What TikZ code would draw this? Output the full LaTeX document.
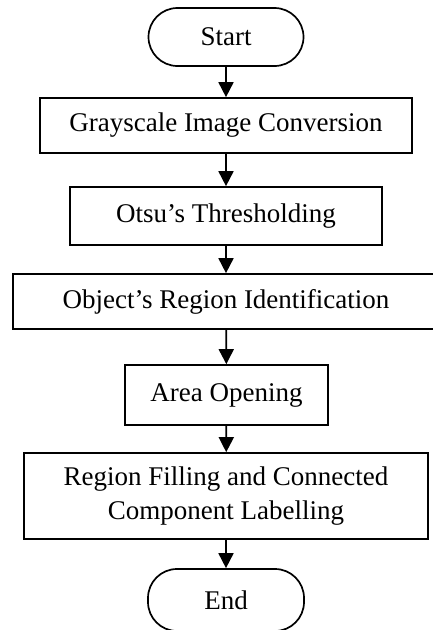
\documentclass[tikz,border=0pt]{standalone}
\usepackage{fontspec}
\setmainfont{Liberation Serif}
\usetikzlibrary{arrows.meta}
\begin{document}
\begin{tikzpicture}[x=1pt,y=1pt,
  every node/.style={font=\fontsize{27}{34}\selectfont, line width=1.7pt, draw, inner sep=0pt, align=center},
  procbox/.style={rectangle},
  term/.style={rectangle, rounded corners=29pt},
  flow/.style={line width=1.8pt, -{Triangle[width=15pt,length=15pt]}}]
\useasboundingbox (0,0) rectangle (433,-630);
\node[term, minimum width=155, minimum height=58] (start) at (226,-37) {Start};
\node[procbox, minimum width=372, minimum height=55] (b1) at (226,-125.5) {Grayscale Image Conversion};
\node[procbox, minimum width=312, minimum height=58] (b2) at (226,-216) {Otsu’s Thresholding};
\node[procbox, minimum width=426, minimum height=55] (b3) at (226,-301.5) {Object’s Region Identification};
\node[procbox, minimum width=203, minimum height=60] (b4) at (226.5,-395) {Area Opening};
\node[procbox, minimum width=404, minimum height=86] (b5) at (226,-496) {Region Filling and Connected\\Component Labelling};
\node[term, minimum width=156, minimum height=62] (end) at (226,-600) {End};
\draw[flow] (start) -- (b1);
\draw[flow] (b1) -- (b2);
\draw[flow] (b2) -- (b3);
\draw[flow] (b3) -- (b4);
\draw[flow] (b4) -- (b5);
\draw[flow] (b5) -- (end);
\end{tikzpicture}
\end{document}
